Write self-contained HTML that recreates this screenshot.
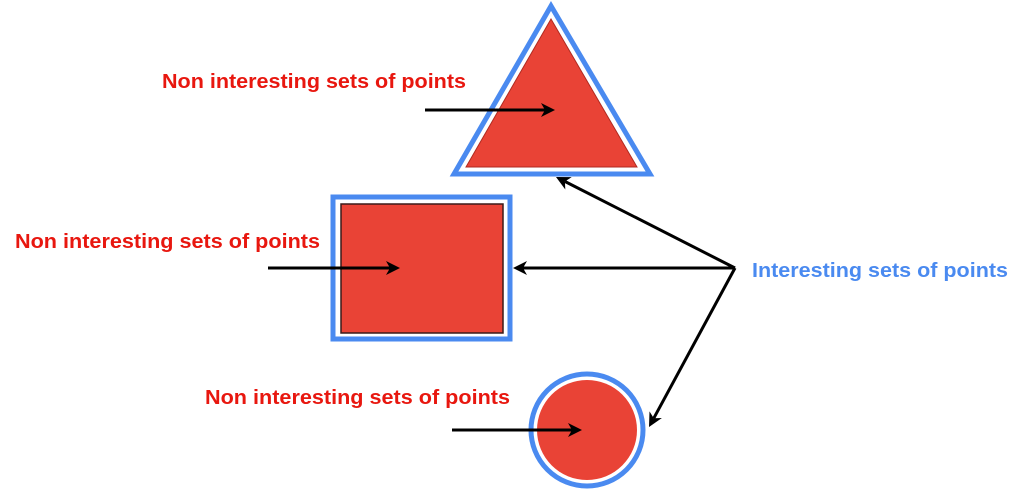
<!DOCTYPE html>
<html><head><style>html,body{margin:0;padding:0;background:#fff}svg{display:block}</style></head>
<body>
<svg width="1024" height="490" viewBox="0 0 1024 490" xmlns="http://www.w3.org/2000/svg" font-family="Liberation Sans, sans-serif" font-weight="bold">
<!-- triangle -->
<polygon points="551,6 454,174 650,174" fill="#fff" stroke="#4a8af0" stroke-width="5"/>
<polygon points="551,19 466,167 637,167" fill="#e94336" stroke="#b02a20" stroke-width="1"/>
<!-- square -->
<rect x="333" y="197" width="177" height="142" fill="#fff" stroke="#4a8af0" stroke-width="5"/>
<rect x="341" y="204" width="162" height="129" fill="#e94336" stroke="#3a1a18" stroke-width="1.5"/>
<!-- circle -->
<circle cx="587" cy="430" r="56" fill="#fff" stroke="#4a8af0" stroke-width="5"/>
<circle cx="587" cy="430" r="50" fill="#e94336"/>
<!-- arrows -->
<g stroke="#000" stroke-width="3" fill="none">
<line x1="425" y1="110" x2="546" y2="110"/>
<line x1="268" y1="268" x2="391" y2="268"/>
<line x1="452" y1="430" x2="573" y2="430"/>
<line x1="735" y1="268" x2="565" y2="181.5"/>
<line x1="735" y1="268" x2="522" y2="268"/>
<line x1="735" y1="268" x2="653.8" y2="418.2"/>
</g>
<g fill="#000">
<polygon points="555,110 541,103 545,110 541,117"/>
<polygon points="400,268 386,261 390,268 386,275"/>
<polygon points="582,430 568,423 572,430 568,437"/>
<polygon points="513,268 527,261 523,268 527,275"/>
<polygon points="556,177 571.7,177.1 564.9,181.5 565.3,189.5"/>
<polygon points="649,427 661.9,418 653.8,418.2 649.5,411.4"/>
</g>
<g fill="#e8170f" font-size="20">
<text x="162" y="88" textLength="304" lengthAdjust="spacingAndGlyphs">Non interesting sets of points</text>
<text x="15" y="248" textLength="305" lengthAdjust="spacingAndGlyphs">Non interesting sets of points</text>
<text x="205" y="404" textLength="305" lengthAdjust="spacingAndGlyphs">Non interesting sets of points</text>
</g>
<text x="752" y="277" fill="#4a8af0" font-size="20" textLength="256" lengthAdjust="spacingAndGlyphs">Interesting sets of points</text>
</svg>
</body></html>
